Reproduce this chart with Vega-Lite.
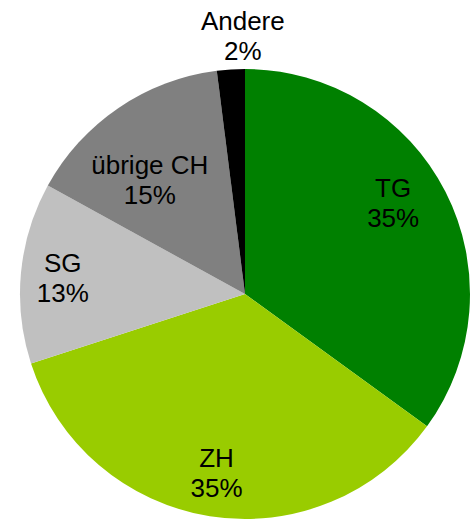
{
  "$schema": "https://vega.github.io/schema/vega-lite/v6.json",
  "width": 450,
  "height": 450,
  "autosize": {"type": "none"},
  "padding": {"left": 20, "top": 69, "right": 4, "bottom": 6},
  "background": "white",
  "config": {
    "view": {"stroke": null},
    "text": {"fontSize": 26, "lineHeight": 30, "font": "Liberation Sans", "lineBreak": "\n", "baseline": "middle", "align": "center"}
  },
  "data": {
    "values": [
      {"name": "TG", "value": 35, "order": 1, "label": "TG\n35%"},
      {"name": "ZH", "value": 35, "order": 2, "label": "ZH\n35%"},
      {"name": "SG", "value": 13, "order": 3, "label": "SG\n13%"},
      {"name": "übrige CH", "value": 15, "order": 4, "label": "übrige CH\n15%"},
      {"name": "Andere", "value": 2, "order": 5, "label": "Andere\n2%"}
    ]
  },
  "encoding": {
    "theta": {"field": "value", "type": "quantitative", "stack": true},
    "order": {"field": "order", "type": "quantitative"},
    "color": {
      "field": "name",
      "type": "nominal",
      "scale": {
        "domain": ["TG", "ZH", "SG", "übrige CH", "Andere"],
        "range": ["#008000", "#99cc00", "#c0c0c0", "#808080", "#000000"]
      },
      "legend": null
    }
  },
  "layer": [
    {"mark": {"type": "arc", "outerRadius": 225}},
    {
      "mark": {"type": "text", "radius": 173, "dx": -6, "dy": -26},
      "encoding": {"text": {"condition": {"test": "datum.name === 'TG'", "field": "label"}, "value": ""}, "color": {"value": "black"}}
    },
    {
      "mark": {"type": "text", "radius": 182, "dy": -15},
      "encoding": {"text": {"condition": {"test": "datum.name === 'ZH'", "field": "label"}, "value": ""}, "color": {"value": "black"}}
    },
    {
      "mark": {"type": "text", "radius": 183, "dy": -13},
      "encoding": {"text": {"condition": {"test": "datum.name === 'SG'", "field": "label"}, "value": ""}, "color": {"value": "black"}}
    },
    {
      "mark": {"type": "text", "radius": 148, "dx": -12, "dy": -6},
      "encoding": {"text": {"condition": {"test": "datum.name === 'übrige CH'", "field": "label"}, "value": ""}, "color": {"value": "black"}}
    },
    {
      "mark": {"type": "text", "radius": 258, "dx": 14, "dy": -15},
      "encoding": {"text": {"condition": {"test": "datum.name === 'Andere'", "field": "label"}, "value": ""}, "color": {"value": "black"}}
    }
  ]
}
